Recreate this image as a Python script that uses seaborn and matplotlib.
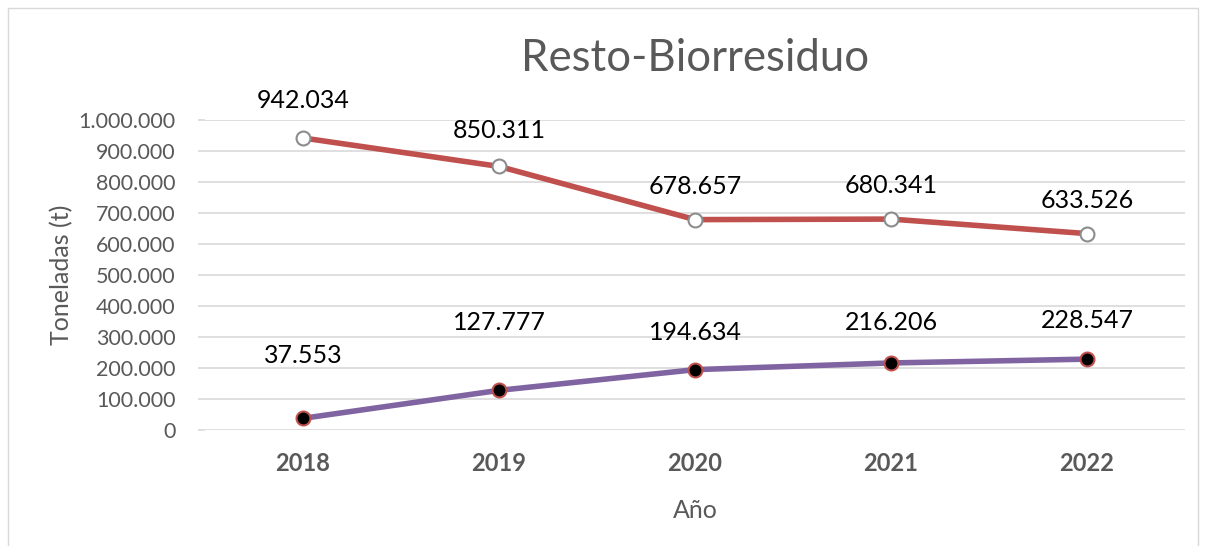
import matplotlib
matplotlib.use("Agg")
import matplotlib.pyplot as plt
import seaborn as sns
import pandas as pd
from matplotlib.ticker import FuncFormatter
from matplotlib.patches import Rectangle

# data
years = ["2018", "2019", "2020", "2021", "2022"]
resto = [942034, 850311, 678657, 680341, 633526]
biorresiduo = [37553, 127777, 194634, 216206, 228547]

df = pd.DataFrame({"Año": years * 2,
                   "t": resto + biorresiduo,
                   "serie": ["Resto"] * 5 + ["Biorresiduo"] * 5})

sns.set_theme(style="white")
plt.rcParams["font.family"] = ["Lato", "DejaVu Sans"]

fig = plt.figure(figsize=(12.06, 5.46), dpi=100)
ax = fig.add_axes([0.170, 0.2125, 0.8126, 0.5677])

sns.lineplot(data=df[df.serie == "Resto"], x="Año", y="t", ax=ax, color="#C0504D",
             linewidth=4, marker="o", markersize=10, markerfacecolor="white",
             markeredgecolor="#8C8C8C", markeredgewidth=1.5, sort=False)
sns.lineplot(data=df[df.serie == "Biorresiduo"], x="Año", y="t", ax=ax, color="#8064A2",
             linewidth=4, marker="o", markersize=10, markerfacecolor="black",
             markeredgecolor="#C0504D", markeredgewidth=1.5, sort=False)

fmt = lambda v: f"{int(round(v)):,}".replace(",", ".")

# label offsets in points (layout only)
off_resto = [27, 26, 24, 24, 24]
off_bio = [45, 49, 27, 29, 28]
for i, (a, b) in enumerate(zip(resto, biorresiduo)):
    ax.annotate(fmt(a), (i, a), xytext=(0, off_resto[i]), textcoords="offset points",
                ha="center", va="center", fontsize=18, color="black")
    ax.annotate(fmt(b), (i, b), xytext=(0, off_bio[i]), textcoords="offset points",
                ha="center", va="center", fontsize=18, color="black")

ax.set_xlim(-0.5, 4.5)
ax.set_ylim(0, 1000000)
ax.set_yticks(range(0, 1000001, 100000))
ax.yaxis.set_major_formatter(FuncFormatter(lambda v, p: fmt(v)))
ax.grid(axis="y", color="#D9D9D9", linewidth=1.2)
ax.set_axisbelow(True)
for s in ax.spines.values():
    s.set_visible(False)
ax.tick_params(axis="y", labelsize=15.5, labelcolor="#595959", length=5,
               color="#D9D9D9", width=1.2, pad=16, left=True)
ax.tick_params(axis="x", labelsize=17, labelcolor="#595959", length=0, pad=16)
for t in ax.get_xticklabels():
    t.set_fontweight("bold")

ax.set_xlabel("Año", fontsize=18, color="#595959", labelpad=17)
ax.set_ylabel("Toneladas (t)", fontsize=18, color="#595959", labelpad=4)
ax.set_title("Resto-Biorresiduo", fontsize=31.5, color="#595959", pad=35)

fig.patches.append(Rectangle((8 / 1206, -0.1), 1190 / 1206, 1 - 8 / 546 + 0.1,
                             transform=fig.transFigure, fill=False,
                             edgecolor="#D9D9D9", linewidth=1))

fig.savefig("out.png", dpi=100)
